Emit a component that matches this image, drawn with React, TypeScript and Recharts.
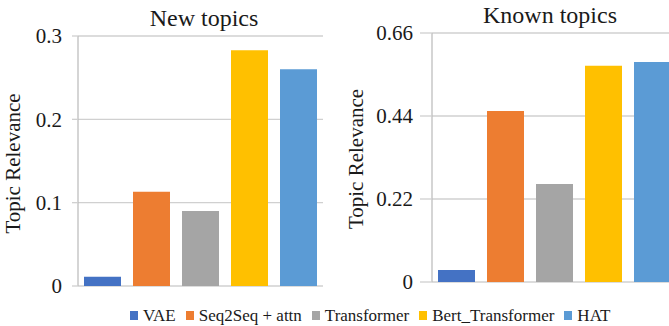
import React from 'react';
import { BarChart, Bar, XAxis, YAxis, CartesianGrid } from 'recharts';

const seriesNames = ['VAE', 'Seq2Seq + attn', 'Transformer', 'Bert_Transformer', 'HAT'];
const seriesKeys = ['vae', 'seq2seq', 'transformer', 'bert', 'hat'];
const seriesColors = ['#4472C4', '#ED7D31', '#A5A5A5', '#FFC000', '#5B9BD5'];
const newTopicValues = [0.011, 0.113, 0.09, 0.283, 0.26];
const knownTopicValues = [0.032, 0.453, 0.26, 0.573, 0.583];
const newTicks = [0, 0.1, 0.2, 0.3];
const knownTicks = [0, 0.22, 0.44, 0.66];
const titles = ['New topics', 'Known topics'];
const yLabel = 'Topic Relevance';

const FONT = '"Liberation Serif", "Times New Roman", serif';
const TEXT = '#1a1a1a';

function buildRow(values: number[]) {
  const row: Record<string, number | string> = { name: '' };
  seriesKeys.forEach((k, i) => {
    row[k] = values[i];
  });
  return [row];
}

type PanelProps = {
  values: number[];
  ticks: number[];
  width: number;
  height: number;
  margin: { top: number; right: number; bottom: number; left: number };
  yWidth: number;
  tickSize: number;
  tickMargin: number;
  labelBaseline: number;
  labelShift: number;
};

function Panel(p: PanelProps) {
  const data = buildRow(p.values);
  const renderLabel = (props: any) => {
    const vb = props && props.viewBox ? props.viewBox : { x: 0, y: p.margin.top, width: p.yWidth, height: p.height - p.margin.top - p.margin.bottom };
    const cx = vb.x + p.labelBaseline;
    const cy = vb.y + vb.height / 2 + p.labelShift;
    return (
      <text
        x={cx}
        y={cy}
        transform={`rotate(-90 ${cx} ${cy})`}
        textAnchor="middle"
        fontSize={21}
        fill={TEXT}
        fontFamily={FONT}
      >
        {yLabel}
      </text>
    );
  };
  return (
    <BarChart
      width={p.width}
      height={p.height}
      data={data}
      margin={p.margin}
      barCategoryGap={6}
      barGap={12}
    >
      <CartesianGrid vertical={false} stroke="#d0d0d0" strokeWidth={1.3} />
      <XAxis dataKey="name" hide />
      <YAxis
        type="number"
        domain={[p.ticks[0], p.ticks[p.ticks.length - 1]]}
        ticks={p.ticks}
        interval={0}
        width={p.yWidth}
        tickSize={p.tickSize}
        tickMargin={p.tickMargin}
        axisLine={{ stroke: '#bfbfbf', strokeWidth: 1.3 }}
        tickLine={{ stroke: '#d0d0d0', strokeWidth: 1.3 }}
        tick={{ fill: TEXT, fontSize: 21, fontFamily: FONT }}
        label={{ value: yLabel, position: 'insideLeft', content: renderLabel }}
      />
      {seriesKeys.map((k, i) => (
        <Bar key={k} dataKey={k} name={seriesNames[i]} fill={seriesColors[i]} isAnimationActive={false} />
      ))}
    </BarChart>
  );
}

export default function App() {
  return (
    <div
      style={{
        position: 'fixed',
        left: 0,
        top: 0,
        width: 669,
        height: 326,
        overflow: 'hidden',
        background: '#fff',
        fontFamily: FONT,
      }}
    >
      <div style={{ position: 'absolute', left: 0, top: 0 }}>
        <Panel
          values={newTopicValues}
          ticks={newTicks}
          width={335}
          height={326}
          margin={{ top: 36, right: 12, bottom: 40, left: 0 }}
          yWidth={78}
          tickSize={6}
          tickMargin={10}
          labelBaseline={20}
          labelShift={2.5}
        />
      </div>
      <div style={{ position: 'absolute', left: 335, top: 0 }}>
        <Panel
          values={knownTopicValues}
          ticks={knownTicks}
          width={350}
          height={326}
          margin={{ top: 33, right: 8, bottom: 44, left: 0 }}
          yWidth={97}
          tickSize={12}
          tickMargin={7}
          labelBaseline={28}
          labelShift={1.5}
        />
      </div>
      <div
        style={{
          position: 'absolute',
          left: 104,
          width: 200,
          top: 6,
          textAlign: 'center',
          fontSize: 24,
          lineHeight: '24px',
          color: TEXT,
          whiteSpace: 'nowrap',
        }}
      >
        {titles[0]}
      </div>
      <div
        style={{
          position: 'absolute',
          left: 450,
          width: 200,
          top: 3,
          textAlign: 'center',
          fontSize: 24,
          lineHeight: '24px',
          color: TEXT,
          whiteSpace: 'nowrap',
        }}
      >
        {titles[1]}
      </div>
      <div
        style={{
          position: 'absolute',
          left: 130,
          top: 307,
          display: 'flex',
          alignItems: 'center',
          fontSize: 17,
          lineHeight: '17px',
          color: TEXT,
          whiteSpace: 'nowrap',
        }}
      >
        {seriesNames.map((n, i) => (
          <div key={n} style={{ display: 'flex', alignItems: 'center', marginRight: 10 }}>
            <span
              style={{
                display: 'inline-block',
                width: 8,
                height: 9,
                background: seriesColors[i],
                marginRight: 5,
              }}
            />
            <span>{n}</span>
          </div>
        ))}
      </div>
    </div>
  );
}
